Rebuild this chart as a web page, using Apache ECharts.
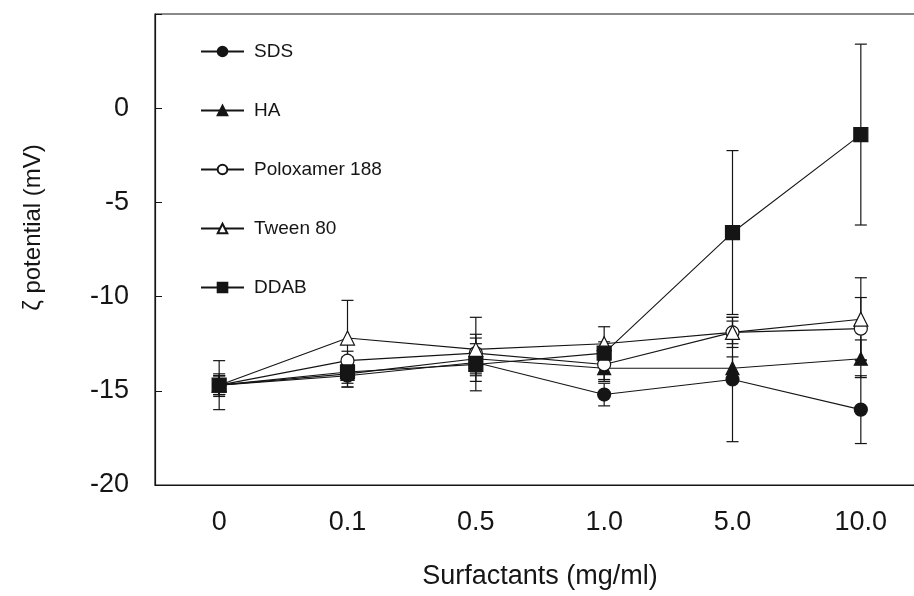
<!DOCTYPE html>
<html>
<head>
<meta charset="utf-8">
<script src="https://cdn.jsdelivr.net/npm/echarts@6/dist/echarts.min.js"></script>
<style>html,body{margin:0;padding:0;background:#fff;}#c{width:914px;height:596px;}</style>
</head>
<body>
<div id="c"></div>
<script>
var categories = ['0', '0.1', '0.5', '1.0', '5.0', '10.0'];
var sds = [-14.7, -14.2, -13.5, -15.2, -14.4, -16.0];
var sdsErr = [0.6, 0.6, 0.7, 0.6, 3.3, 1.8];
var ha = [-14.7, -14.1, -13.3, -13.8, -13.8, -13.3];
var haErr = [0.5, 0.5, 0.8, 0.6, 0.6, 1.0];
var polox = [-14.7, -13.4, -13.0, -13.6, -11.9, -11.7];
var poloxErr = [0.5, 0.5, 1.0, 0.9, 0.6, 1.65];
var tween = [-14.7, -12.2, -12.8, -12.5, -11.9, -11.2];
var tweenErr = [0.5, 2.0, 1.7, 0.9, 0.8, 2.2];
var ddab = [-14.7, -14.0, -13.6, -13.0, -6.6, -1.4];
var ddabErr = [1.3, 0.8, 1.4, 0.6, 4.35, 4.8];
var yTicks = [-20, -15, -10, -5, 0];

var FONT = '"Liberation Sans", Arial, sans-serif';
var INK = '#151515';

function errData(vals, errs) {
  return vals.map(function (v, i) { return [i, v - errs[i], v + errs[i]]; });
}
function errSeries(vals, errs) {
  return {
    type: 'custom',
    silent: true,
    z: 1,
    data: errData(vals, errs),
    encode: { x: 0, y: [1, 2] },
    renderItem: function (params, api) {
      var lo = api.coord([api.value(0), api.value(1)]);
      var hi = api.coord([api.value(0), api.value(2)]);
      var hw = 6;
      var st = { stroke: INK, lineWidth: 1.2 };
      return {
        type: 'group',
        children: [
          { type: 'line', shape: { x1: lo[0], y1: lo[1], x2: hi[0], y2: hi[1] }, style: st },
          { type: 'line', shape: { x1: lo[0] - hw, y1: lo[1], x2: lo[0] + hw, y2: lo[1] }, style: st },
          { type: 'line', shape: { x1: hi[0] - hw, y1: hi[1], x2: hi[0] + hw, y2: hi[1] }, style: st }
        ]
      };
    }
  };
}
function lineSeries(name, vals, symbol, size, filled) {
  return {
    name: name,
    type: 'line',
    data: vals,
    symbol: symbol,
    symbolSize: size,
    z: 3,
    lineStyle: { color: INK, width: 1.1 },
    itemStyle: { color: filled ? INK : '#fff', borderColor: INK, borderWidth: 1.2 },
    emphasis: { disabled: true }
  };
}

var chart = echarts.init(document.getElementById('c'), null, { renderer: 'canvas' });
chart.setOption({
  animation: false,
  backgroundColor: '#fff',
  grid: { left: 155, right: -11, top: 14, bottom: 111, outerBoundsMode: 'none', containLabel: false, show: true, borderColor: INK, borderWidth: 1.2, backgroundColor: 'transparent' },
  legend: {
    orient: 'vertical',
    left: 195,
    top: 37,
    itemWidth: 43,
    itemHeight: 12,
    itemGap: 40,
    textStyle: { fontFamily: FONT, fontSize: 19, color: INK, padding: [0, 0, 0, 5] },
    data: ['SDS', 'HA', 'Poloxamer 188', 'Tween 80', 'DDAB']
  },
  xAxis: {
    type: 'category',
    data: categories,
    boundaryGap: true,
    name: 'Surfactants (mg/ml)',
    nameLocation: 'middle',
    nameGap: 78,
    nameTextStyle: { fontFamily: FONT, fontSize: 27, color: INK },
    axisLine: { onZero: false, lineStyle: { color: INK, width: 1.2 } },
    axisTick: { inside: true, alignWithLabel: true, length: 10, lineStyle: { color: INK } },
    axisLabel: { fontFamily: FONT, fontSize: 27, color: INK, margin: 24 }
  },
  yAxis: {
    type: 'value',
    min: -20,
    max: 5,
    interval: 5,
    name: 'ζ potential (mV)',
    nameLocation: 'middle',
    nameGap: 110,
    nameRotate: 90,
    nameTextStyle: { fontFamily: FONT, fontSize: 24, color: INK, padding: [0, 0, 0, 44] },
    splitLine: { show: false },
    axisLine: { show: true, lineStyle: { color: INK, width: 1.2 } },
    axisTick: { show: true, inside: true, length: 7, lineStyle: { color: INK } },
    axisLabel: {
      fontFamily: FONT, fontSize: 27, color: INK, margin: 26,
      formatter: function (v) { return yTicks.indexOf(v) >= 0 ? String(v) : ''; }
    }
  },
  series: [
    errSeries(sds, sdsErr),
    errSeries(ha, haErr),
    errSeries(polox, poloxErr),
    errSeries(tween, tweenErr),
    errSeries(ddab, ddabErr),
    lineSeries('SDS', sds, 'circle', 13, true),
    lineSeries('HA', ha, 'triangle', 13, true),
    lineSeries('Poloxamer 188', polox, 'circle', 13, false),
    lineSeries('Tween 80', tween, 'triangle', 14, false),
    lineSeries('DDAB', ddab, 'rect', 14, true)
  ]
});
</script>
</body>
</html>
